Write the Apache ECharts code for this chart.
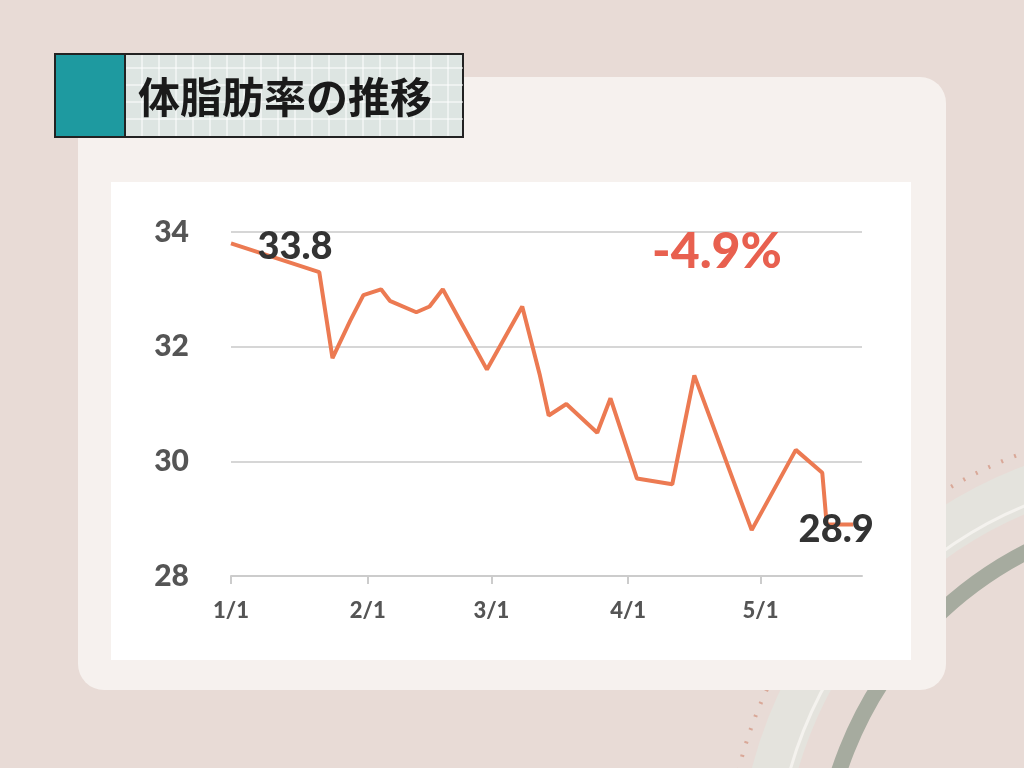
<!DOCTYPE html>
<html><head><meta charset="utf-8">
<script src="https://cdn.jsdelivr.net/npm/echarts@6/dist/echarts.min.js"></script>
<style>html,body{margin:0;padding:0;background:#e8dbd6;}#c{width:1024px;height:768px;}</style>
</head><body><div id="c"></div>
<script>
const dayIndex = [0,20,23,27,30,34,36,42,45,48,58,66,70,72,76,83,86,92,100,105,118,128,134,135,141];
const bodyFat = [33.8,33.3,31.8,32.45,32.9,33.0,32.8,32.6,32.7,33.0,31.6,32.7,31.5,30.8,31.0,30.5,31.1,29.7,29.6,31.5,28.8,30.2,29.8,28.9,28.9];
const monthTicks = [0,31,59,90,120];
const monthLabels = ['1/1','2/1','3/1','4/1','5/1'];
const title = '体脂肪率の推移';
const changeText = '-4.9%';

const chart = echarts.init(document.getElementById('c'));
const data = dayIndex.map((d,i)=>[d,bodyFat[i]]);
const last = data.length-1;
const F = '"Noto Sans CJK JP","Noto Sans",sans-serif';
const L = 'Lato,"Noto Sans",sans-serif';
const gridLines = [];
for (let x=125;x<463;x+=17) gridLines.push({type:'line',shape:{x1:x,y1:55,x2:x,y2:136},style:{stroke:'#ffffff',lineWidth:1},z:2});
for (let y=68;y<136;y+=17) gridLines.push({type:'line',shape:{x1:125,y1:y,x2:463,y2:y},style:{stroke:'#ffffff',lineWidth:1},z:2});
chart.setOption({
  backgroundColor:'#e8dbd6',
  graphic:[
    {type:'circle',shape:{cx:1180,cy:880,r:420},style:{stroke:'#e4e3dd',lineWidth:45,fill:null},z:-10},
    {type:'circle',shape:{cx:1180,cy:880,r:405},style:{stroke:'#f4f2ee',lineWidth:3,fill:null},z:-9},
    {type:'circle',shape:{cx:1200,cy:890,r:380},style:{stroke:'#a6ab9f',lineWidth:16,fill:null},z:-9},
    {type:'circle',shape:{cx:1180,cy:880,r:455},style:{stroke:'#d9a898',lineWidth:4,lineDash:[2,12],fill:null},z:-10},
    {type:'rect',shape:{x:78,y:77,width:868,height:613,r:26},style:{fill:'#f6f1ee'},z:-5},
    {type:'rect',shape:{x:111,y:182,width:800,height:478},style:{fill:'#ffffff'},z:-4},
    {type:'rect',shape:{x:55,y:54,width:408,height:83},style:{fill:'#dde5e2',stroke:'#222',lineWidth:2},z:1},
    ...gridLines,
    {type:'rect',shape:{x:55,y:54,width:70,height:83},style:{fill:'#1e9aa0',stroke:'#222',lineWidth:2},z:3},
    {type:'text',x:138,y:97,style:{text:title,font:'bold 42px '+F,fill:'#1a1a1a',textVerticalAlign:'middle'},z:4},
    {type:'text',x:652,y:252,style:{text:changeText,font:'900 50px '+L,fill:'#e8604f',textVerticalAlign:'middle'},z:4}
  ],
  grid:{left:231,right:162,top:232,bottom:192},
  xAxis:{type:'value',min:0,max:143,
    axisLine:{show:true,lineStyle:{color:'#cccccc',width:2}},
    axisTick:{show:true,customValues:monthTicks,length:8,lineStyle:{color:'#cccccc',width:2}},
    axisLabel:{customValues:monthTicks,formatter:v=>monthLabels[monthTicks.indexOf(v)],fontSize:22,fontWeight:900,color:'#555',margin:24,fontFamily:L},
    splitLine:{show:false}},
  yAxis:{type:'value',min:28,max:34,interval:2,
    axisLine:{show:false},axisTick:{show:false},
    axisLabel:{fontSize:30,fontWeight:900,color:'#555',margin:42,fontFamily:L},
    splitLine:{lineStyle:{color:'#d6d6d6',width:2}}},
  series:[{type:'line',data:data,symbol:'circle',symbolSize:0.1,showSymbol:true,showAllSymbol:true,
    itemStyle:{color:'#ec7a52'},lineStyle:{color:'#ec7a52',width:4},
    label:{show:true,position:'inside',formatter:p=>(p.dataIndex===0||p.dataIndex===last)?p.value[1].toFixed(1):'',fontSize:38,fontWeight:900,color:'#333',fontFamily:L},
    labelLayout:p=>p.dataIndex===0?{dx:64,dy:3}:{dx:-17,dy:5}}]
});
</script></body></html>
